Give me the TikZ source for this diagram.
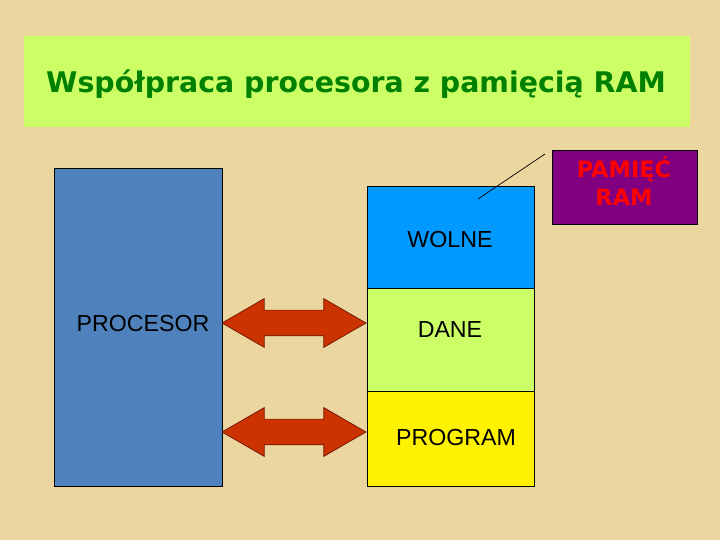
\documentclass[tikz,border=0pt]{standalone}
\usepackage{fontspec}
\setmainfont{Liberation Sans}
\newfontfamily\verd{DejaVu Sans}
\usetikzlibrary{shapes.arrows}
\definecolor{paper}{RGB}{236,214,160}
\definecolor{lime}{RGB}{204,255,102}
\definecolor{procblue}{RGB}{79,129,189}
\definecolor{freeblue}{RGB}{0,153,255}
\definecolor{busred}{RGB}{204,51,0}
\definecolor{busedge}{RGB}{110,20,0}
\definecolor{ramviolet}{RGB}{128,0,128}
\definecolor{titlegreen}{RGB}{0,128,0}

\begin{document}
\begin{tikzpicture}[box/.style={draw=black,line width=0.6pt,inner sep=0pt}, label/.style={font=\fontsize{16.5}{20}\selectfont,inner sep=0pt}, bus/.style={double arrow,fill=busred,draw=busedge,line width=0.5pt,minimum height=3.6cm,minimum width=1.2cm,double arrow head extend=0.2875cm,double arrow tip angle=60,inner xsep=0pt,inner ysep=0.3125cm}]
      \fill[paper] (0,0) rectangle (18,13.5);
      \useasboundingbox (0,0) rectangle (18,13.5);

      % title
      \node[fill=lime,minimum width=16.65cm,minimum height=2.275cm] (head) at (8.925, 11.4625) {};
      \node[font=\verd\bfseries\fontsize{20.2}{24}\selectfont,text=titlegreen] (title) at (8.9, 11.4) {Współpraca procesora z pamięcią RAM};

      % processor and memory
      \node[box,fill=procblue,minimum width=4.2cm,minimum height=7.95cm] (cpu) at (3.45, 5.325) {};
      \node[box,fill=freeblue,minimum width=4.175cm,minimum height=2.55cm] (free) at (11.2625, 7.575) {};
      \node[box,fill=lime,minimum width=4.175cm,minimum height=2.575cm] (data) at (11.2625, 5.0125) {};
      \node[box,fill=yellow,minimum width=4.175cm,minimum height=2.375cm] (prog) at (11.2625, 2.5375) {};

      \node[label] (cpul)  at (3.575, 5.4) {PROCESOR};
      \node[label] (freel) at (11.25, 7.5) {WOLNE};
      \node[label] (datal) at (11.25, 5.25) {DANE};
      \node[label] (progl) at (11.4, 2.55) {PROGRAM};

      % buses
      \node[bus] (bus1) at (7.35, 5.425) {};
      \node[bus] (bus2) at (7.35, 2.7) {};

      % callout
      \node[box,fill=ramviolet,minimum width=3.625cm,minimum height=1.85cm] (ram) at (15.6125, 8.825) {};
      \node[font=\verd\bfseries\fontsize{16}{19.8}\selectfont,text=red,align=center,inner sep=0pt] (raml) at (15.6, 8.975) {PAMIĘĆ\\RAM};
      \coordinate (wtip) at (11.95, 8.525);
      \draw[line width=0.5pt,shorten >=0.2cm] (wtip) -- (ram.north west);
    \end{tikzpicture}
\end{document}
